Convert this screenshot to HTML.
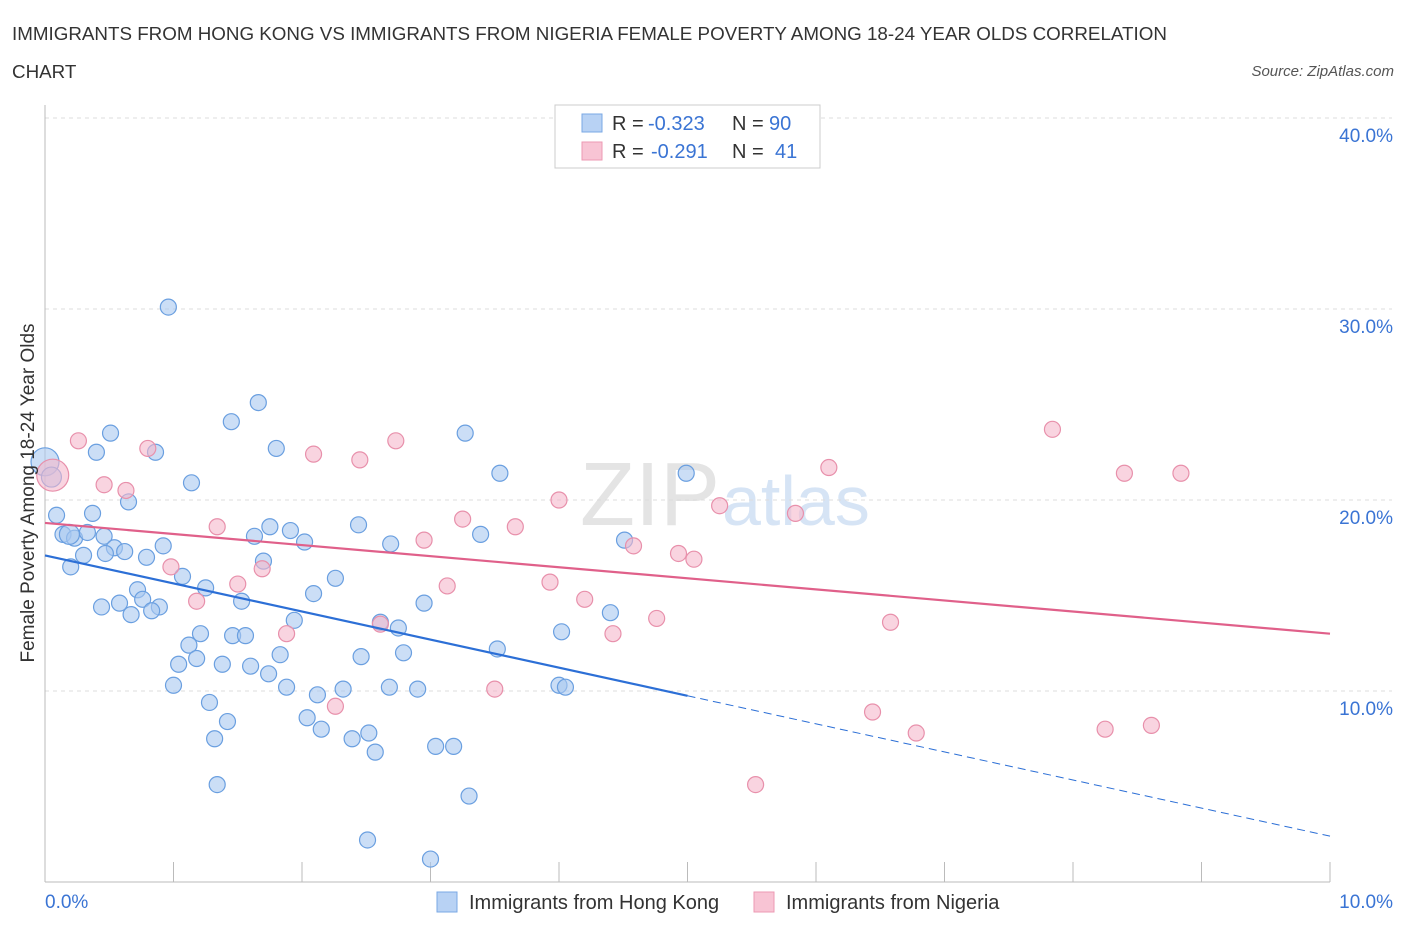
<!DOCTYPE html>
<html><head><meta charset="utf-8"><style>
body{margin:0;background:#fff;font-family:"Liberation Sans",sans-serif;}
svg text{font-family:"Liberation Sans",sans-serif;}
</style></head><body>
<svg width="1406" height="930" xmlns="http://www.w3.org/2000/svg" id="svg">
<text x="12" y="40" font-size="18.8" fill="#333">IMMIGRANTS FROM HONG KONG VS IMMIGRANTS FROM NIGERIA FEMALE POVERTY AMONG 18-24 YEAR OLDS CORRELATION</text>
<text x="12" y="78" font-size="18.8" fill="#333">CHART</text>
<text x="1394" y="76" font-size="15" fill="#555" text-anchor="end" font-style="italic">Source: ZipAtlas.com</text>
<text x="720" y="525" font-size="90" fill="#e4e4e4" text-anchor="end" font-family="Liberation Serif">ZIP</text>
<text x="722" y="525" font-size="70" fill="#d6e4f5">atlas</text>
<g id="grid"></g>
<g id="axes"></g>
<g id="pts"></g>
<g id="lines"></g>
<text transform="translate(34,493) rotate(-90)" font-size="19" fill="#333" text-anchor="middle">Female Poverty Among 18-24 Year Olds</text>
<g>
<rect x="555" y="105" width="265" height="63" fill="#fff" stroke="#ccc"/>
<rect x="582" y="114" width="20" height="18" fill="#b8d2f4" stroke="#7aa8e4"/>
<text x="612" y="130" font-size="20" fill="#333">R =</text>
<text x="648" y="130" font-size="20" fill="#3a74d4">-0.323</text>
<text x="732" y="130" font-size="20" fill="#333">N =</text>
<text x="769" y="130" font-size="20" fill="#3a74d4">90</text>
<rect x="582" y="142" width="20" height="18" fill="#f8c4d4" stroke="#ec9ab3"/>
<text x="612" y="158" font-size="20" fill="#333">R =</text>
<text x="651" y="158" font-size="20" fill="#3a74d4">-0.291</text>
<text x="732" y="158" font-size="20" fill="#333">N =</text>
<text x="775" y="158" font-size="20" fill="#3a74d4">41</text>
</g>
<g>
<rect x="437" y="892" width="20" height="20" fill="#b8d2f4" stroke="#7aa8e4"/>
<text x="469" y="909" font-size="20" fill="#333">Immigrants from Hong Kong</text></g>
<g>
<rect x="754" y="892" width="20" height="20" fill="#f8c4d4" stroke="#ec9ab3"/>
<text x="786" y="909" font-size="20" fill="#333">Immigrants from Nigeria</text></g>
</svg>
<script>
const yTicks=[10,20,30,40];
const yTickLabels=["10.0%","20.0%","30.0%","40.0%"];
const xLabels=["0.0%","10.0%"];
const hkX=[0.96,1.66,1.45,0.51,3.27,0.40,0.86,1.80,1.14,3.54,4.99,0.65,0.09,0.37,0.14,0.23,0.33,0.46,1.75,2.44,1.63,1.91,2.02,3.39,2.69,4.51,0.54,0.62,0.92,0.30,0.47,0.79,0.20,1.70,1.07,2.26,1.25,0.72,2.09,0.76,1.53,0.44,0.58,0.89,0.67,0.83,2.95,4.40,1.94,2.61,2.75,1.21,1.12,1.46,1.56,4.02,1.83,2.79,3.52,1.18,1.04,1.38,1.60,2.46,1.74,1.00,1.88,2.12,2.32,2.68,2.90,4.00,4.05,1.28,2.04,2.15,1.42,1.32,2.39,2.52,2.57,3.04,3.18,1.34,3.30,2.51,3.00,0.00,0.05,0.19];
const hkY=[30.1,25.1,24.1,23.5,23.5,22.5,22.5,22.7,20.9,21.4,21.4,19.9,19.2,19.3,18.2,18.0,18.3,18.1,18.6,18.7,18.1,18.4,17.8,18.2,17.7,17.9,17.5,17.3,17.6,17.1,17.2,17.0,16.5,16.8,16.0,15.9,15.4,15.3,15.1,14.8,14.7,14.4,14.6,14.4,14.0,14.2,14.6,14.1,13.7,13.6,13.3,13.0,12.4,12.9,12.9,13.1,11.9,12.0,12.2,11.7,11.4,11.4,11.3,11.8,10.9,10.3,10.2,9.8,10.1,10.2,10.1,10.3,10.2,9.4,8.6,8.0,8.4,7.5,7.5,7.8,6.8,7.1,7.1,5.1,4.5,2.2,1.2,22.0,21.2,18.2];
const ngX=[0.26,0.06,0.80,2.09,2.73,2.45,7.84,8.40,8.84,6.10,0.46,0.63,4.00,5.25,5.84,3.25,3.66,1.34,2.95,4.58,4.93,5.05,0.98,1.69,1.50,3.13,3.93,4.20,1.18,4.76,2.61,4.42,1.88,6.58,3.50,2.26,6.44,6.78,8.25,8.61,5.53];
const ngY=[23.1,21.3,22.7,22.4,23.1,22.1,23.7,21.4,21.4,21.7,20.8,20.5,20.0,19.7,19.3,19.0,18.6,18.6,17.9,17.6,17.2,16.9,16.5,16.4,15.6,15.5,15.7,14.8,14.7,13.8,13.5,13.0,13.0,13.6,10.1,9.2,8.9,7.8,8.0,8.2,5.1];
const hkTrend=[17.1,-1.47];
const ngTrend=[18.8,-0.58];
const X=v=>45+v*128.5, Y=v=>882-v*19.1;
const NS="http://www.w3.org/2000/svg";
function mk(p,t,a){const e=document.createElementNS(NS,t);for(const k in a)e.setAttribute(k,a[k]);p.appendChild(e);return e;}
const grid=document.getElementById('grid'),axes=document.getElementById('axes'),pts=document.getElementById('pts'),lines=document.getElementById('lines');
mk(grid,'line',{x1:45,x2:1392,y1:118,y2:118,stroke:'#ddd','stroke-dasharray':'4,4'});
yTicks.forEach((t,i)=>{
 const l=mk(grid,'line',{x1:45,x2:1392,y1:Y(t),y2:Y(t),stroke:'#ddd','stroke-dasharray':'4,4'});
 
 
 const tx=mk(axes,'text',{x:1393,y:Y(t)+24,'font-size':19,fill:'#3a74d4','text-anchor':'end'});
 tx.textContent=yTickLabels[i];
 
 
});
mk(axes,'line',{x1:45,x2:45,y1:105,y2:882,stroke:'#bbb'});
mk(axes,'line',{x1:45,x2:1330,y1:882,y2:882,stroke:'#bbb'});
for(let i=0;i<=10;i++){const t=mk(axes,'line',{x1:X(i),x2:X(i),y1:862,y2:882,stroke:'#bbb'});
 
 }
const xl0=mk(axes,'text',{x:45,y:908,'font-size':19,fill:'#3a74d4'});xl0.textContent=xLabels[0];


const xl1=mk(axes,'text',{x:1393,y:908,'font-size':19,fill:'#3a74d4','text-anchor':'end'});xl1.textContent=xLabels[1];


function dots(xs,ys,fill,stroke,name){xs.forEach((x,i)=>{
 const r=(name==='nigeria-point'&&i===1)?16:(name==='hong-kong-point'&&i>=87)?(i===87?14:10):8;
 const c=mk(pts,'circle',{cx:X(x),cy:Y(ys[i]),r:r,fill:fill,'fill-opacity':0.6,stroke:stroke,'stroke-width':1.2});
 
 
});}
dots(hkX,hkY,'#a9c8f0','#6a9fe0','hong-kong-point');
dots(ngX,ngY,'#f5b8cb','#e890ab','nigeria-point');
const f=(tr,x)=>tr[0]+tr[1]*x;
const l1=mk(lines,'line',{x1:X(0),y1:Y(f(hkTrend,0)),x2:X(5),y2:Y(f(hkTrend,5)),stroke:'#2c6fd6','stroke-width':2.2});


const l2=mk(lines,'line',{x1:X(5),y1:Y(f(hkTrend,5)),x2:X(10),y2:Y(f(hkTrend,10)),stroke:'#2c6fd6','stroke-width':1,'stroke-dasharray':'8,5'});


const l3=mk(lines,'line',{x1:X(0),y1:Y(f(ngTrend,0)),x2:X(10),y2:Y(f(ngTrend,10)),stroke:'#e0608a','stroke-width':2.2});


</script>
</body></html>
